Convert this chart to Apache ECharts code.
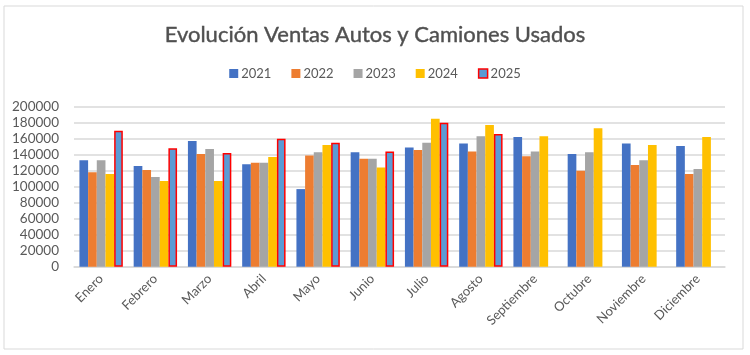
<!DOCTYPE html>
<html>
<head>
<meta charset="utf-8">
<script src="https://cdn.jsdelivr.net/npm/echarts@6/dist/echarts.min.js"></script>
<style>
html,body{margin:0;padding:0;background:#fff;}
#c{width:750px;height:355px;}
</style>
</head>
<body>
<div id="c"></div>
<script>
const categories = ['Enero','Febrero','Marzo','Abril','Mayo','Junio','Julio','Agosto','Septiembre','Octubre','Noviembre','Diciembre'];
const yearNames = ['2021','2022','2023','2024','2025'];
const v2021 = [133000,126000,157000,128000,97000,143000,149000,154000,162000,141000,154000,151000];
const v2022 = [118000,121000,141000,130000,139000,135000,146000,144000,138000,120000,127000,116000];
const v2023 = [133000,112000,147000,130000,143000,135000,155000,163000,144000,143000,133000,122000];
const v2024 = [116000,107000,107000,137000,152000,124000,185000,177000,163000,173000,152000,162000];
const v2025 = [170000,148000,142000,160000,155000,144000,180000,166000,null,null,null,null];
const yTicks = {min:0, max:200000, interval:20000};

const colors = ['#4472C4','#ED7D31','#A5A5A5','#FFC000','#5B9BD5'];
const FONT = 'Lato, "Liberation Sans", sans-serif';
const allValues = [v2021,v2022,v2023,v2024,v2025];

const series = allValues.map((vals,i)=>{
  const s = {
    name: yearNames[i],
    type: 'bar',
    data: vals,
    barGap: '0%',
    barCategoryGap: '20%',
    itemStyle: {color: colors[i]},
    emphasis: {disabled: true}
  };
  if (i === 4) {
    s.itemStyle = {color: colors[i], borderColor: '#FF0000', borderWidth: 1.5};
  }
  return s;
});

const chart = echarts.init(document.getElementById('c'), null, {renderer:'canvas'});
chart.setOption({
  animation: false,
  backgroundColor: '#fff',
  title: {
    text: 'Evolución Ventas Autos y Camiones Usados',
    left: 'center',
    top: 19,
    textStyle: {fontFamily: FONT, fontSize: 22, fontWeight: 'normal', color: '#505050', textBorderColor:'#505050', textBorderWidth:0.4}
  },
  legend: {
    top: 62,
    left: 'center',
    itemWidth: 9,
    itemHeight: 9,
    itemGap: 20,
    icon: 'rect',
    textStyle: {fontFamily: FONT, fontSize: 13, color: '#595959', padding:[0,0,0,-2]},
    data: yearNames.map((n,i)=> i===4 ? {name:n, itemStyle:{borderColor:'#FF0000', borderWidth:1.5}} : {name:n})
  },
  grid: {left: 74, right: 25, top: 106.7, bottom: 88.3, containLabel: false},
  xAxis: {
    type: 'category',
    data: categories,
    axisTick: {show: false},
    axisLine: {lineStyle: {color: '#D9D9D9', width: 1.5}},
    axisLabel: {rotate: 45, margin: 10, fontFamily: FONT, fontSize: 13, color: '#595959', interval: 0}
  },
  yAxis: {
    type: 'value',
    min: yTicks.min, max: yTicks.max, interval: yTicks.interval,
    axisLine: {show: false},
    axisTick: {show: false},
    splitLine: {lineStyle: {color: '#D9D9D9', width: 1.5}},
    axisLabel: {margin: 15, fontFamily: FONT, fontSize: 13.5, color: '#595959', formatter: v => String(v)}
  },
  graphic: [
    {type:'rect', shape:{x:4, y:6, width:739, height:343}, style:{fill:'none', stroke:'#D9D9D9', lineWidth:1}, z:-1, silent:true}
  ],
  series: series
});
</script>
</body>
</html>
